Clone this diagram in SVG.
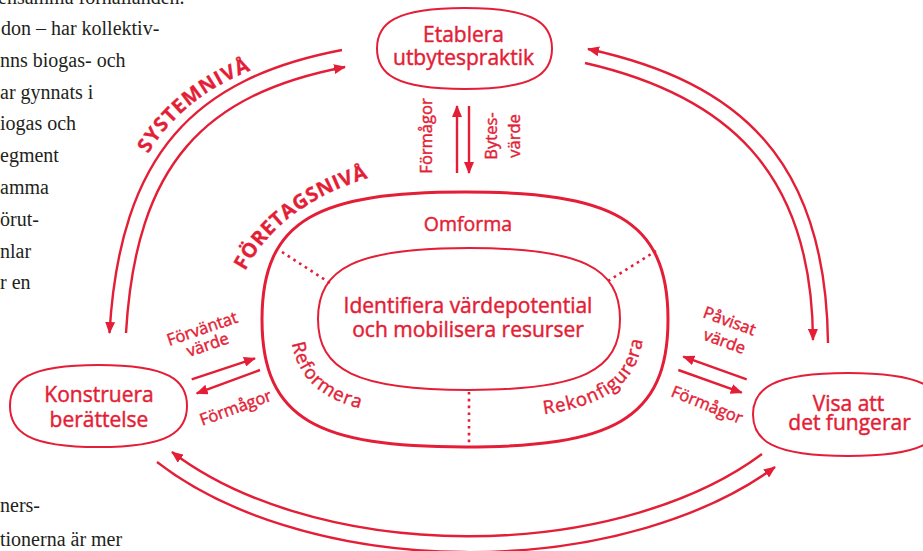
<svg xmlns="http://www.w3.org/2000/svg" width="923" height="551" viewBox="0 0 923 551">
<style>
.ln{fill:none;stroke:#e41e36;stroke-width:2.4}
.nd{fill:#fff;stroke:#e41e36;stroke-width:2}
.dot{fill:none;stroke:#e41e36;stroke-width:2.6;stroke-dasharray:2.6 4.2}
.t{fill:#e41e36;stroke:#e41e36;stroke-width:0.45;font-family:"Open Sans","Noto Sans",sans-serif;font-weight:500}
.nt{font-size:21px;text-anchor:middle}
.sm{font-size:16.5px;text-anchor:middle}
.lv{font-size:20px;font-weight:bold;stroke-width:0.3}
.body{fill:#231f20;font-family:"Liberation Serif","Times New Roman",serif;font-size:20px}
</style>
<defs>
<marker id="ah" viewBox="0 0 12 10" refX="11" refY="5" markerWidth="12" markerHeight="10" markerUnits="userSpaceOnUse" orient="auto"><path d="M0,0 L12,5 L0,10 Z" fill="#e41e36"/></marker>
<path id="sysPath" d="M148,154 Q188,88 275,62"/>
<path id="ftgPath" d="M245,271 Q283,200 382,174"/>
<path id="midPath" d="M290,319.5 C290,391.5 334,418.5 467,418.5 C600,418.5 644,391.5 644,319.5"/>
</defs>

<g id="body-text" class="body">
<text x="-2" y="4">ensamma förhållanden.</text>
<text x="1" y="35">don – har kollektiv-</text>
<text x="0" y="66.8">nns biogas- och</text>
<text x="0" y="98.6">ar gynnats i</text>
<text x="0" y="130.4">iogas och</text>
<text x="0" y="162.2">egment</text>
<text x="0" y="194">amma</text>
<text x="0" y="225.8">örut-</text>
<text x="0" y="257.6">nlar</text>
<text x="0" y="289.4">r en</text>
<text x="0" y="511.5">ners-</text>
<text x="0" y="545.5">tionerna är mer</text>
</g>

<g id="connectors">
<path class="ln" d="M342,50 C195,78 120,153 109.5,333" marker-end="url(#ah)"/>
<path class="ln" d="M126,333 C136,163 205,94 345,67" marker-end="url(#ah)"/>
<path class="ln" d="M828,343 C826,160 740,82 588,49" marker-end="url(#ah)"/>
<path class="ln" d="M585,63 C725,95 812,170 813,340" marker-end="url(#ah)"/>
<path class="ln" d="M762,454 A368,207 0 0 1 172,452" marker-end="url(#ah)"/>
<path class="ln" d="M157,462 A387,220 0 0 0 775,467" marker-end="url(#ah)"/>
<path class="ln" d="M457,173 L457,106" marker-end="url(#ah)"/>
<path class="ln" d="M469,106 L469,173" marker-end="url(#ah)"/>
<path class="ln" d="M191.7,379.3 L255,358.3" marker-end="url(#ah)"/>
<path class="ln" d="M260,370 L196.7,393.3" marker-end="url(#ah)"/>
<path class="ln" d="M746.7,379.3 L683.3,356.7" marker-end="url(#ah)"/>
<path class="ln" d="M678.3,370 L741.7,392.7" marker-end="url(#ah)"/>
</g>

<g id="labels" class="t">
<text class="lv" letter-spacing="1"><textPath href="#sysPath">SYSTEMNIVÅ</textPath></text>
<text class="lv" letter-spacing="0.6"><textPath href="#ftgPath">FÖRETAGSNIVÅ</textPath></text>
<text class="sm" transform="translate(432,136) rotate(-90)">Förmågor</text>
<text class="sm" transform="translate(497,136) rotate(-90)">Bytes-</text>
<text class="sm" transform="translate(520,136) rotate(-90)">värde</text>
<text class="sm" transform="translate(204,334) rotate(-19)">Förväntat</text>
<text class="sm" transform="translate(209.5,350) rotate(-19)">värde</text>
<text class="sm" transform="translate(237.5,413) rotate(-20)">Förmågor</text>
<text class="sm" transform="translate(727.6,326.4) rotate(20)">Påvisat</text>
<text class="sm" transform="translate(722.6,346.8) rotate(20)">värde</text>
<text class="sm" transform="translate(705,410) rotate(22)">Förmågor</text>
</g>

<g id="node-foretag">
<path d="M262,319.5 C262,218 320,192 465,192 C610,192 668,218 668,319.5 C668,421 610,447 465,447 C320,447 262,421 262,319.5 Z" fill="none" stroke="#e41e36" stroke-width="3"/>
<path class="dot" d="M282,252 L330,283"/>
<path class="dot" d="M608,281 L656,251"/>
<path class="dot" d="M469,392 L469,446"/>
<text class="t" x="468" y="230.5" font-size="19.5" text-anchor="middle">Omforma</text>
<text class="t" font-size="18.5" letter-spacing="1"><textPath href="#midPath" startOffset="24">Reformera</textPath></text>
<text class="t" font-size="18.5" letter-spacing="1"><textPath href="#midPath" startOffset="309">Rekonfigurera</textPath></text>
</g>

<g id="node-identifiera">
<path d="M318,319 C318,268 356,248 469,248 C582,248 620,268 620,319 C620,370 582,390 469,390 C356,390 318,370 318,319 Z" fill="none" stroke="#e41e36" stroke-width="2"/>
<text class="t" x="468" y="313.3" font-size="21" text-anchor="middle">Identifiera värdepotential</text>
<text class="t" x="468" y="336.7" font-size="21" text-anchor="middle">och mobilisera resurser</text>
</g>

<g id="node-etablera">
<path class="nd" d="M377,48.5 C377,23.4 394.5,8 464.5,8 C534.5,8 552,23.4 552,48.5 C552,73.6 534.5,89 464.5,89 C394.5,89 377,73.6 377,48.5 Z"/>
<text class="t nt" x="463.5" y="41.7">Etablera</text>
<text class="t nt" x="463.5" y="65">utbytespraktik</text>
</g>

<g id="node-konstruera">
<path class="nd" d="M10,406 C10,380.6 27.7,365 98.5,365 C169.3,365 187,380.6 187,406 C187,431.4 169.3,447 98.5,447 C27.7,447 10,431.4 10,406 Z"/>
<text class="t nt" x="99" y="401.7">Konstruera</text>
<text class="t nt" x="99" y="426.7">berättelse</text>
</g>

<g id="node-visa">
<path class="nd" d="M753,414.5 C753,388.8 772,373 848,373 C924,373 943,388.8 943,414.5 C943,440.2 924,456 848,456 C772,456 753,440.2 753,414.5 Z"/>
<text class="t nt" x="848.5" y="410.7">Visa att</text>
<text class="t nt" x="849.5" y="429.5">det fungerar</text>
</g>
</svg>
